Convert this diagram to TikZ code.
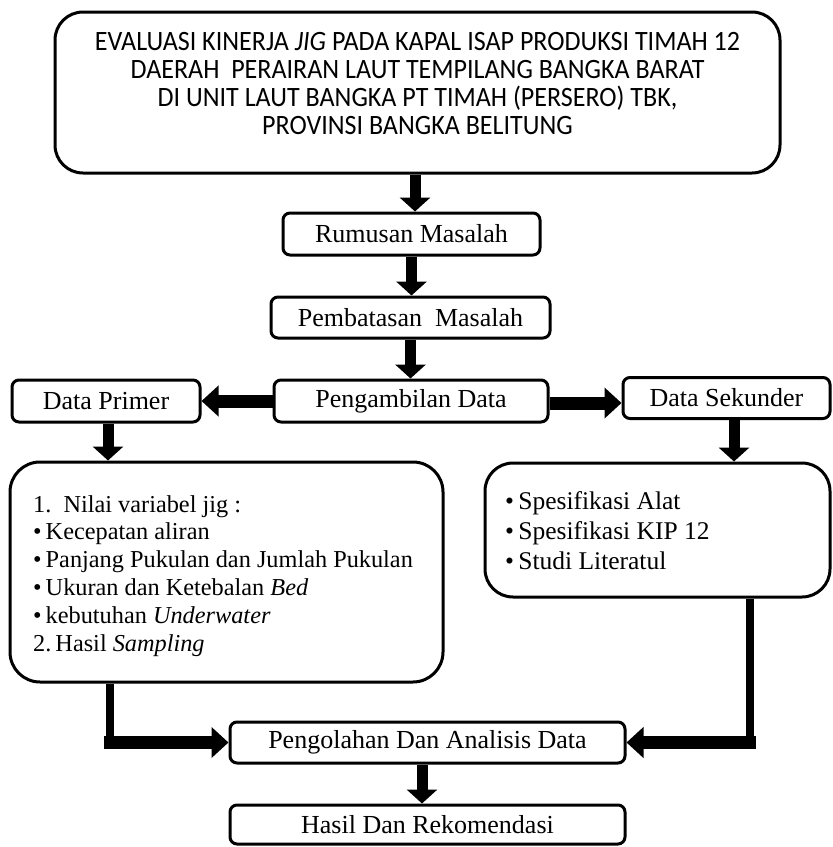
\documentclass[tikz,border=0pt]{standalone}
\usepackage{fontspec}
\setmainfont{Liberation Serif}
\newfontfamily\titlefont[FakeStretch=0.93]{Carlito}
\usetikzlibrary{arrows.meta}
\begin{document}
\begin{tikzpicture}[x=1pt,y=-1pt,
  box/.style={draw, line width=3pt, rounded corners=7pt, fill=white, inner sep=0pt,
    font=\fontsize{26}{30}\selectfont},
  bigbox/.style={draw, line width=3pt, rounded corners=30pt, fill=white, inner sep=0pt},
  varr/.style={line width=11pt, -{Triangle[length=14pt,width=30pt]}},
  harr/.style={line width=13pt, -{Triangle[length=17pt,width=30pt]}},
  conn/.style={line width=8pt},
  listtext/.style={align=left, inner sep=0pt, anchor=north west}
]
\useasboundingbox (0,0) rectangle (833,847);
\fill[white] (0,0) rectangle (833,847);

% boxes
\node[bigbox, rounded corners=28pt, minimum width=725pt, minimum height=161pt] (title) at (417.5,92.5) {};
\node[font=\titlefont\fontsize{28}{28}\selectfont, align=center, inner sep=0pt] (titletext) at (417.5,84)
  {EVALUASI KINERJA \textit{JIG} PADA KAPAL ISAP PRODUKSI TIMAH 12\\
   DAERAH\ \ PERAIRAN LAUT TEMPILANG BANGKA BARAT\\
   DI UNIT LAUT BANGKA PT TIMAH (PERSERO) TBK,\\
   PROVINSI BANGKA BELITUNG};

\node[box, minimum width=257pt, minimum height=42pt] (rum) at (411.5,234) {Rumusan Masalah};
\node[box, minimum width=279pt, minimum height=41pt] (pem) at (410.5,317.5) {Pembatasan\ \ Masalah};
\node[box, minimum width=274pt, minimum height=42pt] (peng) at (411,401) {Pengambilan Data};
\node[box, minimum width=188pt, minimum height=42pt] (prim) at (106,401) {Data Primer};
\node[box, minimum width=207pt, minimum height=41pt] (sek) at (726.5,398) {Data Sekunder};

\node[bigbox, minimum width=433pt, minimum height=220pt] (lbox) at (226.5,572) {};
\node[listtext, font=\fontsize{24.3}{27.8}\selectfont] (ltext) at (33,495)
  {1.\ \ Nilai variabel jig :\\
   \textbullet\,Kecepatan aliran\\
   \textbullet\,Panjang Pukulan dan Jumlah Pukulan\\
   \textbullet\,Ukuran dan Ketebalan \textit{Bed}\\
   \textbullet\,kebutuhan \textit{Underwater}\\
   2.\,Hasil \textit{Sampling}};

\node[bigbox, rounded corners=28pt, minimum width=345pt, minimum height=134pt] (rbox) at (657.5,530) {};
\node[listtext, font=\fontsize{25.5}{30}\selectfont] (rtext) at (505,491)
  {\textbullet\,Spesifikasi Alat\\
   \textbullet\,Spesifikasi KIP 12\\
   \textbullet\,Studi Literatul};

\node[box, minimum width=395pt, minimum height=41pt] (pol) at (427.5,742.5) {Pengolahan Dan Analisis Data};
\node[box, minimum width=395pt, minimum height=39pt] (hasil) at (427.5,824.5) {Hasil Dan Rekomendasi};

% vertical arrows
\draw[varr] ([xshift=-2.5pt]title.south) -- ([xshift=-2.5pt]title.south |- rum.north);
\draw[varr] (rum.south) -- (rum.south |- pem.north);
\draw[varr] (pem.south) -- (pem.south |- peng.north);
\draw[varr] ([xshift=2pt]prim.south) -- ([xshift=2pt]prim.south |- lbox.north);
\draw[varr] ([xshift=7.5pt]sek.south) -- ([xshift=7.5pt]sek.south |- rbox.north);
\draw[varr] ([xshift=-5.5pt]pol.south) -- ([xshift=-5.5pt]pol.south |- hasil.north);

% horizontal arrows from Pengambilan Data
\draw[harr] (peng.west) -- (peng.west -| prim.east);
\draw[harr] ([yshift=-2pt]peng.east) -- ([yshift=-2pt]peng.east -| sek.west);

% connectors into Pengolahan
\coordinate (lc) at ([xshift=-116.5pt]lbox.south |- pol.west);
\coordinate (rc) at ([xshift=92.5pt]rbox.south |- pol.east);
\draw[conn] ([xshift=-116.5pt]lbox.south) -- ([yshift=6.5pt]lc);
\draw[harr] ([xshift=-6pt]lc) -- (pol.west);
\draw[conn] ([xshift=92.5pt]rbox.south) -- ([yshift=6.5pt]rc);
\draw[harr] ([xshift=6pt]rc) -- (pol.east);
\end{tikzpicture}
\end{document}
